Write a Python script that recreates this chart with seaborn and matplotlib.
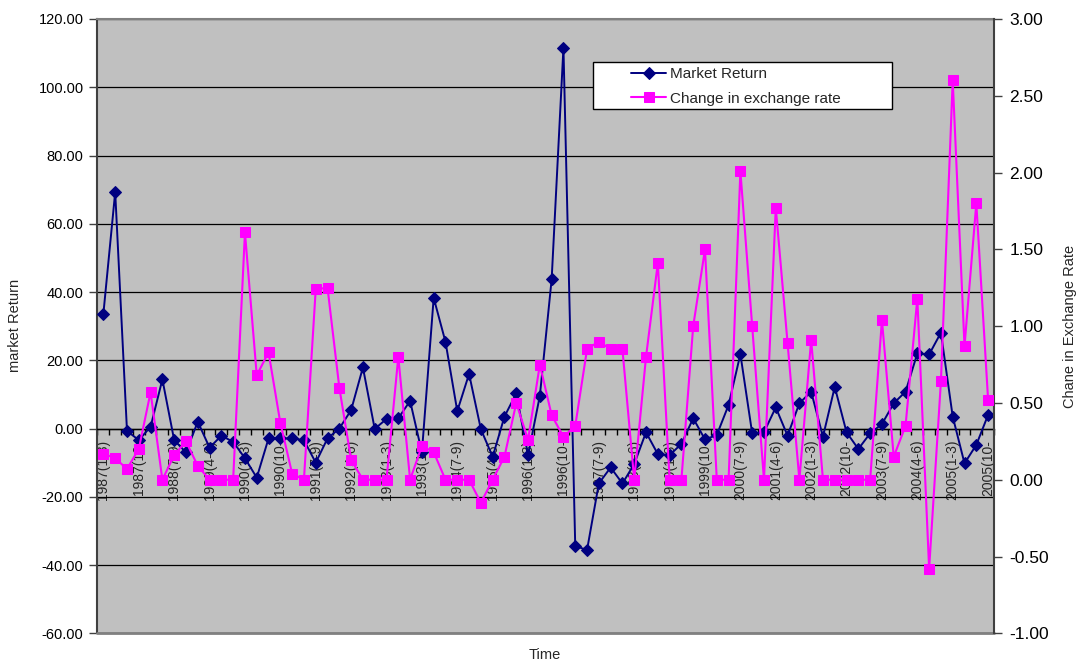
import numpy as np
import pandas as pd
import matplotlib
matplotlib.use("Agg")
import matplotlib.pyplot as plt
from matplotlib.patches import Rectangle
from matplotlib.ticker import FormatStrFormatter, FixedLocator
import seaborn as sns

# ---------------- data ----------------
market_return = [33.7, 69.3, -0.7, -3.4, 0.5, 14.4, -3.4, -7.0, 2.0, -5.6,
                 -2.1, -3.9, -8.7, -14.4, -2.9, -2.9, -2.9, -3.4, -10.0, -2.9,
                 0.0, 5.4, 17.9, -0.1, 2.8, 3.0, 8.1, -7.0, 38.3, 25.4,
                 5.1, 16.0, -0.2, -8.3, 3.5, 10.3, -7.8, 9.6, 43.7, 111.6,
                 -34.4, -35.6, -16.1, -11.4, -16.1, -10.4, -1.1, -7.5, -7.8, -4.5,
                 3.0, -3.2, -1.9, 6.9, 21.8, -1.4, -1.1, 6.2, -2.1, 7.4,
                 10.8, -2.4, 12.2, -1.1, -6.0, -1.4, 1.3, 7.4, 10.8, 22.0,
                 21.7, 28.1, 3.5, -10.2, -4.8, 4.0]

exchange_change = [0.17, 0.14, 0.07, 0.20, 0.57, 0.00, 0.16, 0.25, 0.09, 0.00,
                   0.00, 0.00, 1.61, 0.68, 0.83, 0.37, 0.04, 0.00, 1.24, 1.25,
                   0.60, 0.13, 0.00, 0.00, 0.00, 0.80, 0.00, 0.22, 0.18, 0.00,
                   0.00, 0.00, -0.15, 0.00, 0.15, 0.50, 0.26, 0.75, 0.42, 0.28,
                   0.35, 0.85, 0.90, 0.85, 0.85, 0.00, 0.80, 1.41, 0.00, 0.00,
                   1.00, 1.50, 0.00, 0.00, 2.01, 1.00, 0.00, 1.77, 0.89, 0.00,
                   0.91, 0.00, 0.00, 0.00, 0.00, 0.00, 1.04, 0.15, 0.35, 1.18,
                   -0.58, 0.64, 2.60, 0.87, 1.80, 0.52]

tick_labels = ["1987(1-3)", "1987(10-", "1988(7-9)", "1989(4-6)", "1990(1-3)",
               "1990(10-", "1991(7-9)", "1992(4-6)", "1993(1-3)", "1993(10-",
               "1994(7-9)", "1995(4-6)", "1996(1-3)", "1996(10-", "1997(7-9)",
               "1998(4-6)", "1999(1-3)", "1999(10-", "2000(7-9)", "2001(4-6)",
               "2002(1-3)", "2002(10-", "2003(7-9)", "2004(4-6)", "2005(1-3)",
               "2005(10-"]
label_step = 3

left_ticks = [-60, -40, -20, 0, 20, 40, 60, 80, 100, 120]
right_ticks = [-1.0, -0.5, 0.0, 0.5, 1.0, 1.5, 2.0, 2.5, 3.0]

# ---------------- style ----------------
sns.set_theme(style="white")
plt.rcParams["font.family"] = ["Liberation Sans", "DejaVu Sans"]

NAVY = "#000080"
MAGENTA = "#FF00FF"
BG = "#C0C0C0"

n = len(market_return)
df = pd.DataFrame({"pos": np.arange(n),
                   "market": market_return,
                   "exchange": exchange_change})

fig = plt.figure(figsize=(10.77, 6.6), dpi=100)
fig.patch.set_facecolor("white")
ax1 = fig.add_axes([97.5 / 1077, 1 - 633.3 / 660, 896.5 / 1077, 614.3 / 660])
ax1.set_facecolor(BG)
ax2 = ax1.twinx()
ax2.patch.set_visible(False)

sns.lineplot(data=df, x="pos", y="market", ax=ax1, color=NAVY, marker="D",
             markersize=6, markeredgecolor=NAVY, markerfacecolor=NAVY,
             linewidth=1.4, label="Market Return", legend=False, zorder=3)
sns.lineplot(data=df, x="pos", y="exchange", ax=ax2, color=MAGENTA, marker="s",
             markersize=7.5, markeredgecolor=MAGENTA, markerfacecolor=MAGENTA,
             linewidth=1.5, label="Change in exchange rate", legend=False, zorder=3)

# left axis
ax1.set_xlim(-0.5, n - 0.5)
ax1.set_ylim(-60, 120)
ax1.set_yticks(left_ticks)
ax1.yaxis.set_major_formatter(FormatStrFormatter("%.2f"))
ax1.tick_params(axis="y", which="major", direction="out", length=6, width=1,
                color="#404040", labelsize=10.5, labelcolor="black", pad=4, left=True)
ax1.set_axisbelow(True)
ax1.yaxis.grid(True, color="black", linewidth=0.9)
ax1.xaxis.grid(False)

# category axis at y = 0
ax1.spines["bottom"].set_position(("data", 0))
ax1.spines["bottom"].set_color("black")
ax1.spines["bottom"].set_linewidth(1.0)
ax1.spines["left"].set_color("#404040")
ax1.spines["left"].set_linewidth(1.5)
ax1.spines["top"].set_color("#808080")
ax1.spines["top"].set_linewidth(1.5)
ax1.spines["right"].set_visible(False)
ax1.axhline(-60, color="#808080", linewidth=2.0, clip_on=False, zorder=4)

ax1.set_xticks(np.arange(0, n, label_step))
ax1.set_xticklabels(tick_labels, rotation=90, va="top", ha="center")
ax1.xaxis.set_minor_locator(FixedLocator(np.arange(-0.5, n, 1.0)))
ax1.tick_params(axis="x", which="major", length=0, labelsize=10, pad=8, bottom=True)
ax1.tick_params(axis="x", which="minor", length=4, width=1, color="black",
                direction="out", bottom=True)

ax1.set_xlabel("Time", fontsize=10.5)
ax1.xaxis.set_label_coords((545 - 97.5) / 896.5, (633.3 - 655) / 614.3)
ax1.xaxis.label.set_va("center")
ax1.set_ylabel("market Return", fontsize=10.5, va="center")
ax1.yaxis.set_label_coords((15 - 97.5) / 896.5, (633.3 - 325) / 614.3)

# right axis
ax2.set_ylim(-1.0, 3.0)
ax2.set_yticks(right_ticks)
ax2.yaxis.set_major_formatter(FormatStrFormatter("%.2f"))
ax2.tick_params(axis="y", which="major", direction="out", length=6, width=1,
                color="#404040", labelsize=12.5, labelcolor="black", pad=5, right=True)
for s in ["left", "top", "bottom"]:
    ax2.spines[s].set_visible(False)
ax2.spines["right"].set_color("#404040")
ax2.spines["right"].set_linewidth(1.5)
ax2.set_ylabel("Chane in Exchange Rate", fontsize=10.5, rotation=90, va="center")
ax2.yaxis.set_label_coords((1070 - 97.5) / 896.5, (633.3 - 326) / 614.3)
ax2.grid(False)

# legend with Excel-like box
box = Rectangle((593 / 1077, 1 - 109 / 660), (892 - 593) / 1077, (109 - 62) / 660,
                transform=fig.transFigure, facecolor="white", edgecolor="black",
                linewidth=1.0, zorder=5)
fig.patches.append(box)
h1, l1 = ax1.get_legend_handles_labels()
h2, l2 = ax2.get_legend_handles_labels()
leg = fig.legend(h1 + h2, l1 + l2, loc="upper left",
                 bbox_to_anchor=(628 / 1077, 1 - 64 / 660),
                 bbox_transform=fig.transFigure, frameon=False, fontsize=11,
                 handlelength=2.3, handletextpad=0.25, labelspacing=0.7,
                 borderpad=0.2, borderaxespad=0)
leg.set_zorder(6)

fig.savefig("out.png", dpi=100, facecolor="white")
